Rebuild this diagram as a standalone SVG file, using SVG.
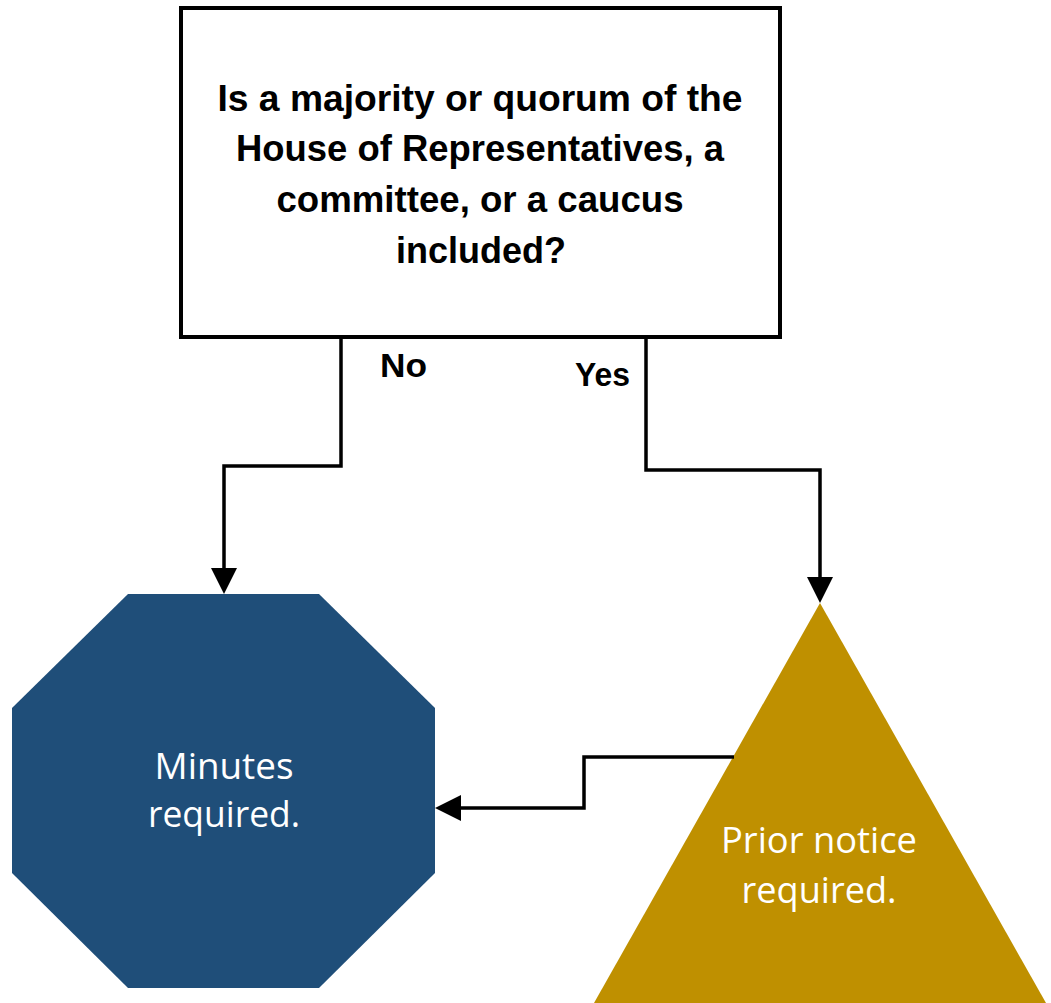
<svg xmlns="http://www.w3.org/2000/svg" width="1051" height="1003" viewBox="0 0 1051 1003">
  <style>
    .q { font-family: "Liberation Sans", Arial, sans-serif; font-weight: bold; font-size: 37px; fill: #000; text-anchor: middle; }
    .lbl { font-family: "Liberation Sans", Arial, sans-serif; font-weight: bold; font-size: 34px; fill: #000; }
    .res { font-family: "Open Sans", "Liberation Sans", sans-serif; font-size: 36px; fill: #fff; text-anchor: middle; }
    .wire { fill: none; stroke: #000; stroke-width: 3.5; stroke-linejoin: miter; marker-end: url(#head); }
  </style>
  <defs>
    <marker id="head" markerUnits="userSpaceOnUse" markerWidth="26" markerHeight="26" refX="0" refY="13" orient="auto" overflow="visible">
      <path d="M0,0 L26,13 L0,26 Z" fill="#000"/>
    </marker>
  </defs>
  <rect width="1051" height="1003" fill="#fff"/>

  <g id="question">
    <rect x="181" y="8" width="599" height="329" fill="#fff" stroke="#000" stroke-width="4"/>
    <text class="q" x="480" y="111" textLength="525" lengthAdjust="spacingAndGlyphs">Is a majority or quorum of the</text>
    <text class="q" x="480" y="161" textLength="488" lengthAdjust="spacingAndGlyphs">House of Representatives, a</text>
    <text class="q" x="480" y="212" textLength="407" lengthAdjust="spacingAndGlyphs">committee, or a caucus</text>
    <text class="q" x="481" y="263" textLength="170" lengthAdjust="spacingAndGlyphs">included?</text>
  </g>

  <g id="minutes">
    <polygon points="128,594 319,594 435,708 435,873 319,988 128,988 12,873 12,708" fill="#1F4E79"/>
    <text class="res" x="224" y="779" textLength="139" lengthAdjust="spacingAndGlyphs">Minutes</text>
    <text class="res" x="224" y="827" textLength="152" lengthAdjust="spacingAndGlyphs">required.</text>
  </g>

  <g id="notice">
    <polygon points="820,603 1046,1003 594,1003" fill="#BF9000"/>
    <text class="res" x="819" y="853" textLength="196" lengthAdjust="spacingAndGlyphs">Prior notice</text>
    <text class="res" x="819" y="903" textLength="155" lengthAdjust="spacingAndGlyphs">required.</text>
  </g>

  <g id="connectors">
    <path class="wire" d="M341,337 V466 H224 V568"/>
    <path class="wire" d="M646,337 V470 H820 V577"/>
    <path class="wire" d="M734,757 H584 V808 H461"/>
    <text class="lbl" x="380" y="377" textLength="47" lengthAdjust="spacingAndGlyphs">No</text>
    <text class="lbl" x="575" y="386" textLength="55" lengthAdjust="spacingAndGlyphs">Yes</text>
  </g>
</svg>
